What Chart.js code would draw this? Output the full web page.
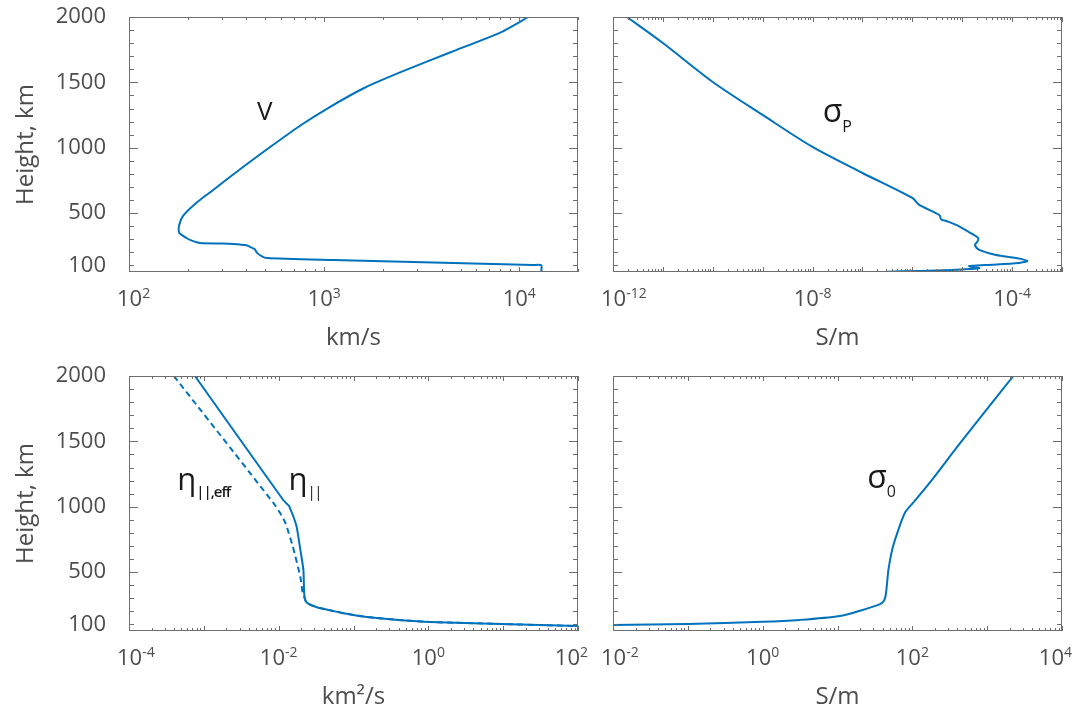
<!DOCTYPE html>
<html>
<head>
<meta charset="utf-8">
<title>Height profiles</title>
<script src="https://cdn.jsdelivr.net/npm/chart.js@4.4.1/dist/chart.umd.min.js"></script>
<style>
  html, body { margin: 0; padding: 0; background: #fff; }
  #wrap { position: relative; width: 1091px; height: 710px; }
  .panel { position: absolute; }
</style>
</head>
<body>
<div id="wrap">
  <div class="panel" style="left:0;top:0;width:610px;height:355px"><canvas id="speedChart"></canvas></div>
  <div class="panel" style="left:581px;top:0;width:510px;height:355px"><canvas id="pedersenChart"></canvas></div>
  <div class="panel" style="left:0;top:355px;width:610px;height:355px"><canvas id="diffusionChart"></canvas></div>
  <div class="panel" style="left:581px;top:355px;width:510px;height:355px"><canvas id="parallelChart"></canvas></div>
</div>
<script>
// Alfven speed V (km/s) against height (km)
const vHeight = [2000, 1885, 1732, 1580, 1457, 1304, 1174, 998, 922, 853, 754, 677, 601, 563, 528, 498, 467, 433, 394, 349, 310, 290, 272, 268, 265, 255, 242, 225, 196, 170, 157, 142, 122, 104, 102, 50];
const vSpeed  = [11120, 8090, 4480, 2483, 1604, 1048, 762, 520, 443, 384, 314, 270, 231, 215, 203, 194, 187, 183, 180, 181, 197, 210, 231, 300, 341, 400, 417, 440, 453, 480, 509, 1112, 3623, 11800, 12970, 12970];

// Pedersen conductivity (S/m)
const sigmaPHeight = [2000, 1801, 1503, 1251, 1006, 807, 616, 563, 486, 452, 440, 410, 341, 310, 280, 257, 219, 180, 157, 135, 119, 104, 96, 88, 81, 76, 72, 66, 58, 52];
const sigmaP = [1.9e-12, 1e-11, 1e-10, 1e-9, 1e-8, 1e-7, 1e-6, 1.38e-6, 3.47e-6, 3.8e-6, 4.8e-6, 7.6e-6, 1.58e-5, 2.1e-5, 2.0e-5, 1.8e-5, 2.2e-5, 4.8e-5, 1.2e-4, 2.0e-4, 1.38e-4, 3.0e-5, 1.38e-5, 1.58e-5, 2.2e-5, 2.0e-5, 1.38e-5, 6.3e-6, 1.38e-6, 3.0e-7];

// magnetic diffusivity (km^2/s), plain and effective
const etaHeight = [2000, 1052, 1006, 991, 922, 846, 670, 517, 341, 280, 257, 230, 203, 188, 157, 135, 119, 104, 95, 88];
const eta = [7.6e-4, 0.0115, 0.0138, 0.0141, 0.0158, 0.0174, 0.0195, 0.0214, 0.0219, 0.0229, 0.0251, 0.0331, 0.0537, 0.0708, 0.151, 0.398, 1.05, 9.1, 31.6, 100];
const etaEffHeight = [2000, 1029, 950, 876, 693, 463, 341, 310, 280, 257, 230, 203, 188, 157, 135, 119, 104, 95, 88];
const etaEff = [3.98e-4, 8.5e-3, 0.0105, 0.0123, 0.0155, 0.0195, 0.0209, 0.0219, 0.0229, 0.0251, 0.0331, 0.0537, 0.0708, 0.151, 0.398, 1.05, 9.1, 31.6, 100];

// parallel conductivity (S/m)
const sigma0Height = [96, 104, 120, 135, 165, 205, 255, 275, 310, 400, 517, 670, 800, 953, 1029, 1182, 1488, 2000];
const sigma0 = [0.01, 0.1, 1, 3.16, 10.7, 20, 37, 41, 43.6, 45.7, 47.9, 53.7, 63, 79.4, 102, 170, 437, 2239];

const heightLabels = [100, 500, 1000, 1500, 2000];

const LINE = '#0072bd';
const AXIS = '#6e6e6e';
const TEXT = '#4d4d4d';
const INK = '#1a1a1a';
const FONT = "'Open Sans', 'Noto Sans', sans-serif";

function pairs(xs, ys) {
  return xs.map((x, i) => ({ x: x, y: ys[i] }));
}

// box, inward ticks, 10^n labels and curve names
const frameTicks = {
  id: 'frameTicks',
  afterDatasetsDraw(chart, args, opts) {
    const { ctx, chartArea: a, scales: { x, y } } = chart;
    ctx.save();
    ctx.strokeStyle = AXIS;
    ctx.lineWidth = 1;
    ctx.beginPath();

    // height ticks every 100 km, longer every 500 km
    for (let h = 100; h <= 2000; h += 100) {
      const py = Math.round(y.getPixelForValue(h)) + 0.5;
      const len = h % 500 === 0 ? 9 : 5;
      ctx.moveTo(a.left, py); ctx.lineTo(a.left + len, py);
      ctx.moveTo(a.right, py); ctx.lineTo(a.right - len, py);
    }

    // log ticks
    const lo = Math.floor(Math.log10(x.min));
    const hi = Math.ceil(Math.log10(x.max));
    for (let k = lo; k <= hi; k++) {
      for (let m = 1; m <= 9; m++) {
        const v = m * Math.pow(10, k);
        if (v < x.min * 0.999 || v > x.max * 1.001) continue;
        const px = Math.round(x.getPixelForValue(v)) + 0.5;
        const len = m === 1 ? 5 : 3;
        ctx.moveTo(px, a.bottom); ctx.lineTo(px, a.bottom - len);
        ctx.moveTo(px, a.top); ctx.lineTo(px, a.top + len);
      }
    }
    ctx.stroke();
    ctx.strokeRect(Math.round(a.left) + 0.5, Math.round(a.top) + 0.5,
      Math.round(a.right - a.left) - 1, Math.round(a.bottom - a.top) - 1);

    // decade labels, kept from spilling far past the box ends
    ctx.fillStyle = TEXT;
    ctx.textBaseline = 'alphabetic';
    ctx.textAlign = 'left';
    opts.exponents.forEach(e => {
      const px = x.getPixelForValue(Math.pow(10, e));
      const base = '10';
      const sup = String(e);
      ctx.font = '22px ' + FONT;
      const wb = ctx.measureText(base).width;
      ctx.font = '14px ' + FONT;
      const ws = ctx.measureText(sup).width;
      let left = px - (wb + ws) / 2;
      left = Math.max(left, a.left - 12);
      left = Math.min(left, a.right + 10 - wb - ws);
      const baseY = a.bottom + 34;
      ctx.font = '22px ' + FONT;
      ctx.fillText(base, left, baseY);
      ctx.font = '14px ' + FONT;
      ctx.fillText(sup, left + wb, baseY - 8);
    });

    // curve names
    ctx.fillStyle = INK;
    opts.notes.forEach(n => {
      const px = x.getPixelForValue(n.x);
      const py = y.getPixelForValue(n.y);
      ctx.font = n.size + 'px ' + FONT;
      ctx.letterSpacing = '0px';
      ctx.fillText(n.main, px, py);
      if (n.sub) {
        const w = ctx.measureText(n.main).width;
        ctx.font = (n.subWeight || 400) + ' ' + n.subSize + 'px ' + FONT;
        ctx.letterSpacing = (n.subSpacing || 0) + 'px';
        ctx.fillText(n.sub, px + w + (n.subDx || 0), py + n.subDy);
        ctx.letterSpacing = '0px';
      }
    });
    ctx.restore();
  }
};

function makePanel(id, cfg) {
  const titleFont = { family: FONT, size: 24, lineHeight: 1 };
  return new Chart(document.getElementById(id), {
    type: 'scatter',
    data: {
      datasets: cfg.datasets.map(d => ({
        data: d.data,
        showLine: true,
        borderColor: LINE,
        backgroundColor: LINE,
        borderWidth: 2,
        borderDash: d.dash || [],
        pointRadius: 0,
        tension: d.tension || 0,
        fill: false
      }))
    },
    plugins: [frameTicks],
    options: {
      responsive: true,
      maintainAspectRatio: false,
      animation: false,
      devicePixelRatio: 1,
      layout: { padding: cfg.pad },
      plugins: {
        legend: { display: false },
        tooltip: { enabled: false },
        frameTicks: { exponents: cfg.exponents, notes: cfg.notes }
      },
      scales: {
        x: {
          type: 'logarithmic',
          min: cfg.xMin,
          max: cfg.xMax,
          grid: { display: false, drawTicks: false },
          border: { display: false },
          ticks: { display: false },
          title: {
            display: true,
            text: cfg.xTitle,
            color: TEXT,
            font: titleFont,
            padding: { top: 0, bottom: cfg.xTitlePad }
          },
          afterFit: s => {
            s.height = cfg.xHeight;
            s.paddingLeft = 0; s.paddingRight = 0;
          }
        },
        y: {
          type: 'linear',
          min: 50,
          max: 2000,
          grid: { display: false, drawTicks: false },
          border: { display: false },
          ticks: {
            display: cfg.showY,
            autoSkip: false,
            padding: 23,
            color: TEXT,
            font: { family: FONT, size: 22 },
            callback: v => String(v)
          },
          afterBuildTicks: s => { s.ticks = heightLabels.map(v => ({ value: v })); },
          title: {
            display: cfg.showY,
            text: 'Height, km',
            color: TEXT,
            font: titleFont,
            padding: { top: 14, bottom: 0 }
          },
          afterFit: s => {
            s.width = cfg.yWidth;
            s.paddingTop = 0; s.paddingBottom = 0;
          }
        }
      }
    }
  });
}

makePanel('speedChart', {
  datasets: [{ data: pairs(vSpeed, vHeight), tension: 0.2 }],
  xMin: 100, xMax: 20000,
  exponents: [2, 3, 4],
  xTitle: 'km/s',
  xTitlePad: 5,
  showY: true,
  yWidth: 129, xHeight: 83,
  pad: { top: 17, right: 32, bottom: 0, left: 0 },
  notes: [{ x: 453, y: 1212, main: 'V', size: 26 }]
});

makePanel('pedersenChart', {
  datasets: [{ data: pairs(sigmaP, sigmaPHeight), tension: 0.3 }],
  xMin: 1e-12, xMax: 1e-3,
  exponents: [-12, -8, -4],
  xTitle: 'S/m',
  xTitlePad: 5,
  showY: false,
  yWidth: 32, xHeight: 83,
  pad: { top: 17, right: 29, bottom: 0, left: 0 },
  notes: [{ x: 1.6e-8, y: 1197, main: 'σ', size: 32, sub: 'P', subSize: 16, subDy: 10, subDx: 0 }]
});

makePanel('diffusionChart', {
  datasets: [
    { data: pairs(etaEff, etaEffHeight), dash: [6, 4], tension: 0.2 },
    { data: pairs(eta, etaHeight), tension: 0.2 }
  ],
  xMin: 1e-4, xMax: 100,
  exponents: [-4, -2, 0, 2],
  xTitle: 'km²/s',
  xTitlePad: 1,
  showY: true,
  yWidth: 129, xHeight: 79,
  pad: { top: 21, right: 32, bottom: 0, left: 0 },
  notes: [
    { x: 4.4e-4, y: 1128, main: 'η', size: 31, sub: '||,eff', subSize: 15, subWeight: 600, subSpacing: -1, subDy: 7, subDx: 0 },
    { x: 0.0135, y: 1128, main: 'η', size: 31, sub: '||', subSize: 15, subSpacing: -1.5, subDy: 7, subDx: 0 }
  ]
});

makePanel('parallelChart', {
  datasets: [{ data: pairs(sigma0, sigma0Height), tension: 0.3 }],
  xMin: 0.01, xMax: 10000,
  exponents: [-2, 0, 2, 4],
  xTitle: 'S/m',
  xTitlePad: 1,
  showY: false,
  yWidth: 32, xHeight: 79,
  pad: { top: 21, right: 29, bottom: 0, left: 0 },
  notes: [{ x: 25, y: 1144, main: 'σ', size: 32, sub: '0', subSize: 16, subDy: 9, subDx: 0 }]
});
</script>
</body>
</html>
